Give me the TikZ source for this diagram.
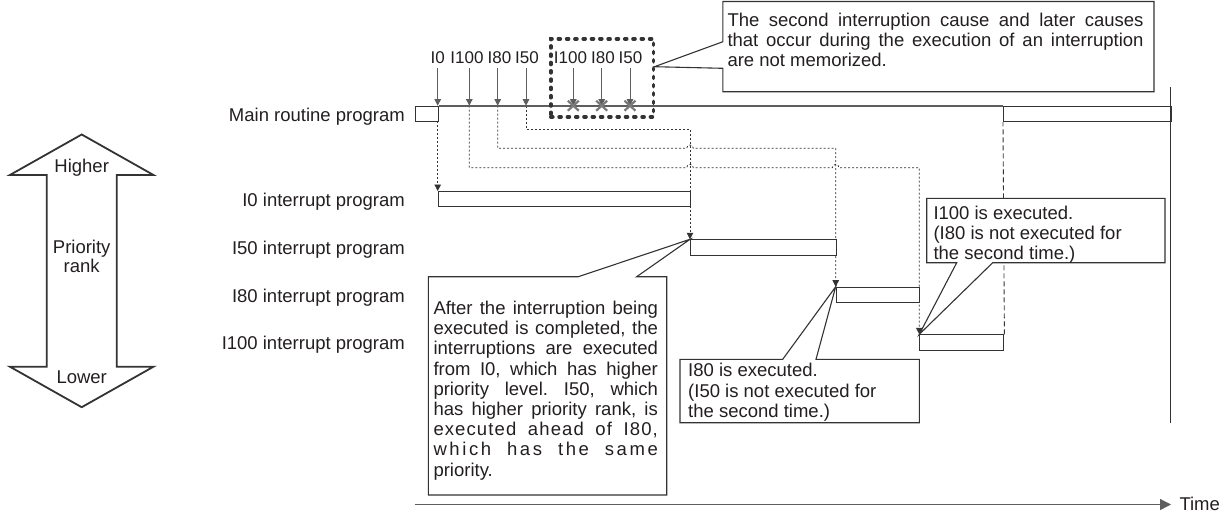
\documentclass[tikz,border=0pt]{standalone}
\usepackage{fontspec}
\setmainfont{Liberation Sans}
\usetikzlibrary{arrows.meta}
\definecolor{ink}{HTML}{231F20}
\definecolor{ln}{HTML}{333333}
\definecolor{gr}{HTML}{5E5E5E}
\definecolor{xm}{HTML}{7A7A7A}
\newcommand{\jline}[2]{{\addfontfeatures{LetterSpace=#1}\makebox[224.4pt][s]{#2}}}
\frenchspacing
\begin{document}
\begin{tikzpicture}[x=1pt,y=-1pt,
  font=\fontsize{18.5}{20}\selectfont, text=ink,
  bar/.style={draw=ln, fill=white, line width=1.1pt, inner sep=0pt, minimum height=15.3pt, anchor=north west},
  tipa/.style={-{Triangle[width=6.5pt,length=6.5pt]}},
  dotl/.style={draw=ln, line width=0.8pt, dash pattern=on 2pt off 2pt},
  lbl/.style={inner sep=0pt, anchor=base east},
  toplbl/.style={inner sep=0pt, anchor=base, font=\fontsize{17}{19}\selectfont},
  topar/.style={draw=gr, line width=0.9pt, shorten <=5pt, tipa},
  callout/.style={draw=ln, fill=white, line width=1.1pt, line join=miter},
  ctext/.style={inner sep=0pt, anchor=north west, align=left},
  xmark/.style={draw=xm, line width=2.2pt}]
\useasboundingbox (0,0) rectangle (1223,512);

% ---- priority arrow ----
\draw[ln, line width=1.8pt, line join=miter]
  (81.7,134.5) -- (153.5,175) -- (116.7,175) -- (116.7,366.7) -- (153.5,366.7)
  -- (81.7,407.2) -- (9.9,366.7) -- (46.7,366.7) -- (46.7,175) -- (9.9,175) -- cycle;
\node[anchor=base, inner sep=0pt] (hi) at (81.7,172.6) {Higher};
\node[align=center, inner sep=0pt, font=\fontsize{18.5}{18.5}\selectfont] (pr) at (81.7,256.5) {Priority\\rank};
\node[anchor=base, inner sep=0pt] (lo) at (81.7,383.3) {Lower};

% ---- row labels ----
\node[lbl] (lm) at (405,121.6) {Main routine program};
\node[lbl] (l0) at (405,206.6) {I0 interrupt program};
\node[lbl] (l50) at (405,254.9) {I50 interrupt program};
\node[lbl] (l80) at (405,302.6) {I80 interrupt program};
\node[lbl] (l100) at (405,349.9) {I100 interrupt program};

% ---- coordinates on the main line ----
\coordinate (s0) at (437.7,105.7);
\coordinate (s100) at (469.3,105.7);
\coordinate (s80) at (497.7,105.7);
\coordinate (s50) at (526,105.7);
\coordinate (x100) at (573.3,105.7);
\coordinate (x80) at (601.7,105.7);
\coordinate (x50) at (630,105.7);

% ---- dotted transfer lines ----
\draw[dotl, tipa] (s100) |- (686.7,167.7)
   .. controls (686.7,163.3) and (693.3,163.3) .. (693.3,167.7) -- (832.4,167.7)
   .. controls (832.4,163.3) and (839,163.3) .. (839,167.7) -| (919.3,334.3);
\draw[dotl, tipa] (s80) |- (686.7,148.3)
   .. controls (686.7,143.9) and (693.3,143.9) .. (693.3,148.3) -| (835.7,286.7);
\draw[dotl, tipa] (s50) -- (526,129) -| (690,239.3);
\draw[dotl, tipa] (437.7,121) -- (437.7,191);

% ---- bars ----
\node[bar, minimum width=22.7pt] (m1) at (415,105.7) {};
\node[bar, minimum width=167.7pt] (m2) at (1003,105.7) {};
\node[bar, minimum width=252.3pt] (b0) at (437.7,191) {};
\node[bar, minimum width=145.7pt] (b50) at (690,239.3) {};
\node[bar, minimum width=83.6pt] (b80) at (835.7,286.7) {};
\node[bar, minimum width=84pt] (b100) at (919.3,334.3) {};

\draw[gr, line width=1.6pt] (m1.north east) -- (m2.north west);
\draw[ln, line width=0.9pt, dash pattern=on 5pt off 3pt] (b100.north east) -- (m2.south west);

% ---- end marker ----
\coordinate (vtop) at (1170.7,87.3);
\coordinate (vbot) at (1170.7,422.7);
\draw[ln, line width=1.1pt] (vtop) -- (vbot);

% ---- top labels and arrows ----
\node[toplbl] (t0) at (437.7,63) {I0};
\node[toplbl] (t100) at (467,63) {I100};
\node[toplbl] (t80) at (499.5,63) {I80};
\node[toplbl] (t50) at (527,63) {I50};
\node[toplbl] (u100) at (570.5,63) {I100};
\node[toplbl] (u80) at (603,63) {I80};
\node[toplbl] (u50) at (630.5,63) {I50};
\draw[topar] (t0) -- (s0);
\draw[topar] (t100.south -| s100) -- (s100);
\draw[topar] (t80.south -| s80) -- (s80);
\draw[topar] (t50.south -| s50) -- (s50);
\draw[topar] (u100.south -| x100) -- (x100);
\draw[topar] (u80.south -| x80) -- (x80);
\draw[topar] (u50.south -| x50) -- (x50);
\foreach \p in {x100,x80,x50}{
  \draw[xmark] (\p) ++(-5.5,-5) -- ++(11,10);
  \draw[xmark] (\p) ++(-5.5,5) -- ++(11,-10);
}
\node[draw=ln, line width=3.6pt, dash pattern=on 2pt off 6.3pt, line cap=round,
      minimum width=102.7pt, minimum height=78pt, inner sep=0pt, anchor=north west] (dbox) at (549,37) {};

% ---- callout: not memorized ----
\coordinate (tipA) at (654.5,66.7);
\draw[callout] (722.9,1.5) -- (1154,1.5) -- (1154,91.7) -- (722.9,91.7) -- (722.9,68.3)
   -- (tipA) -- (722.9,41.7) -- cycle;
\node[ctext] (cA) at (727.3,12.6) {\makebox[416pt][s]{The second interruption cause and later causes}\\
  \makebox[416pt][s]{that occur during the execution of an interruption}\\
  are not memorized.};

% ---- callout: I100 executed ----
\draw[callout] (926.7,198.3) -- (1165,198.3) -- (1165,262.7) -- (992.7,262.7)
   -- (b100.north west) -- (956.7,262.7) -- (926.7,262.7) -- cycle;
\node[ctext] (cB) at (933.3,205.9) {I100 is executed.\\(I80 is not executed for\\the second time.)};

% ---- callout: I80 executed ----
\draw[callout] (680,359.3) -- (782.7,359.3) -- (b80.north west) -- (816,359.3)
   -- (919.3,359.3) -- (919.3,422.7) -- (680,422.7) -- cycle;
\node[ctext, font=\fontsize{18.5}{20.8}\selectfont] (cC) at (688,362.6) {I80 is executed.\\(I50 is not executed for\\the second time.)};

% ---- callout: priority explanation ----
\draw[callout] (428.3,276.7) -- (578.3,276.7) -- (b50.north west) -- (636.7,276.7)
   -- (666.7,276.7) -- (666.7,495) -- (428.3,495) -- cycle;
\node[ctext, font=\fontsize{18.5}{20.2}\selectfont] (cD) at (433.3,300.9) {%
  \makebox[224.4pt][s]{After the interruption being}\\
  \makebox[224.4pt][s]{executed is completed, the}\\
  \makebox[224.4pt][s]{interruptions are executed}\\
  \makebox[224.4pt][s]{from I0, which has higher}\\
  \makebox[224.4pt][s]{priority level. I50, which}\\
  \makebox[224.4pt][s]{has higher priority rank, is}\\
  \jline{6}{executed ahead of I80,}\\
  \jline{14}{which has the same}\\
  priority.};

% ---- time axis ----
\coordinate (ta) at (414.7,504.5);
\coordinate (tb) at (1171,504.5);
\draw[gr, line width=1.3pt, -{Triangle[width=11pt,length=11pt]}] (ta) -- (tb);
\node[anchor=base west, inner sep=0pt] (time) at (1179.3,510.5) {Time};
\end{tikzpicture}
\end{document}
